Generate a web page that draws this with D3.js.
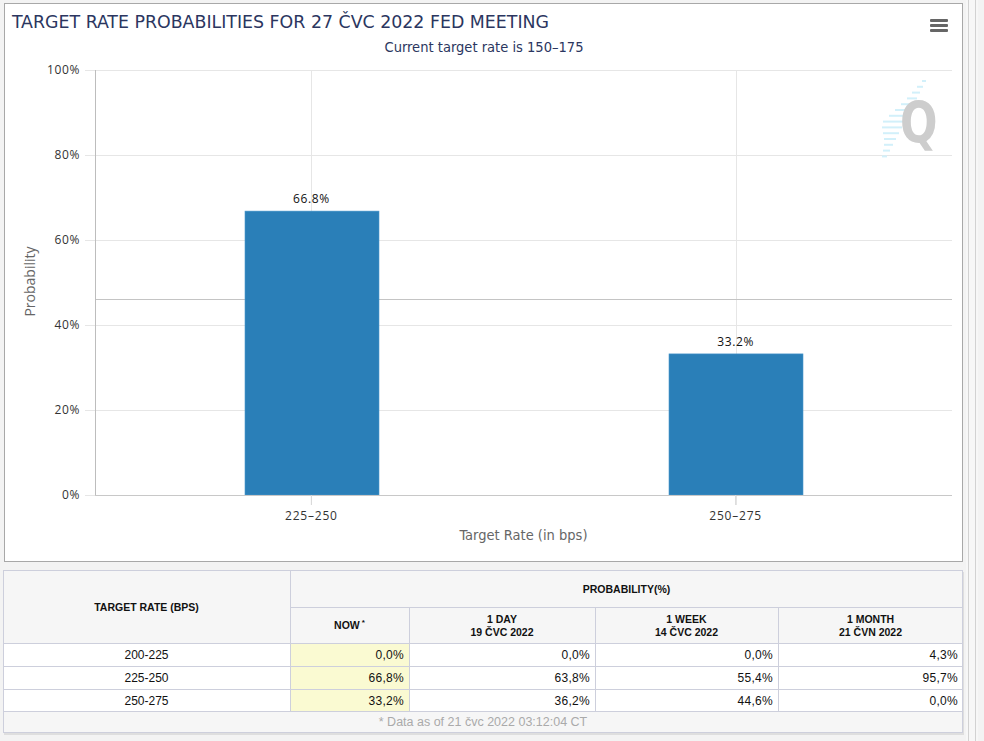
<!DOCTYPE html>
<html>
<head>
	<meta charset="utf-8">
	<title>Target rate probabilities</title>
	<script src="https://d3js.org/d3.v7.min.js" charset="utf-8"></script>
	<style>
		body { margin: 0; background: #f3f3f3; }
		svg { display: block; }
	</style>
</head>
<body>
<script type="text/javascript">
	// chart data
	var rates = ["225–250", "250–275"];
	var probs = [66.8, 33.2];
	var yTicks = [0, 20, 40, 60, 80, 100];
	var markerLine = 46.1;

	// table data
	var tableRates = ["200-225", "225-250", "250-275"];
	var nowVals = [0.0, 66.8, 33.2];
	var dayVals = [0.0, 63.8, 36.2];
	var weekVals = [0.0, 55.4, 44.6];
	var monthVals = [4.3, 95.7, 0.0];
	var colHeads = [["NOW"], ["1 DAY", "19 ČVC 2022"], ["1 WEEK", "14 ČVC 2022"], ["1 MONTH", "21 ČVN 2022"]];

	var svgWidth = 984, svgHeight = 741;

	var svg = d3.select("body")
		.append("svg")
		.attr("width", svgWidth)
		.attr("height", svgHeight);

	// scroll bar lines on the right
	svg.append("rect").attr("x", 966).attr("y", 0).attr("width", 12).attr("height", svgHeight)
		.attr("fill", "#f7f7f7");
	[968, 975].forEach(function(x) {
		svg.append("line").attr("x1", x + 0.5).attr("x2", x + 0.5).attr("y1", 0).attr("y2", svgHeight)
			.attr("stroke", "#d2d2d2");
	});

	// chart box
	svg.append("rect")
		.attr("x", 4.5).attr("y", 3.5).attr("width", 958).attr("height", 558)
		.attr("fill", "#fff").attr("stroke", "#a8a8a8");

	svg.append("text")
		.attr("x", 12).attr("y", 28)
		.attr("font-family", "'DejaVu Sans Condensed', 'DejaVu Sans'")
		.attr("font-size", 18)
		.attr("fill", "#2b3660")
		.attr("textLength", 537)
		.attr("lengthAdjust", "spacingAndGlyphs")
		.text("TARGET RATE PROBABILITIES FOR 27 ČVC 2022 FED MEETING");

	svg.append("text")
		.attr("x", 484).attr("y", 52)
		.attr("text-anchor", "middle")
		.attr("font-family", "'DejaVu Sans Condensed', 'DejaVu Sans'")
		.attr("font-size", 14)
		.attr("fill", "#2b3660")
		.attr("textLength", 199)
		.attr("lengthAdjust", "spacingAndGlyphs")
		.text("Current target rate is 150–175");

	// hamburger menu
	[19, 24, 29].forEach(function(y) {
		svg.append("rect").attr("x", 930).attr("y", y).attr("width", 18).attr("height", 3)
			.attr("rx", 1).attr("fill", "#666");
	});

	// plot area
	var margin = {top: 70, left: 95},
		width = 857,
		height = 425;

	var g = svg.append("g")
		.attr("transform", "translate(" + margin.left + "," + margin.top + ")");

	var x = d3.scaleBand().domain(rates).range([0, width]).paddingInner(0).paddingOuter(0.01),
		y = d3.scaleLinear().domain([0, 100]).range([height, 0]);

	// watermark (page position 900,143)
	var wm = svg.append("g").attr("transform", "translate(900,143)");
	var streakLen = [4, 6, 8, 10, 13, 16, 19, 22, 20, 16, 12, 9, 7, 5];
	streakLen.forEach(function(len, i) {
		var yy = -62 + i * 5.8, right = 26 - i * 3.0;
		wm.append("line")
			.attr("x1", right - len).attr("x2", right)
			.attr("y1", yy).attr("y2", yy)
			.attr("stroke", "#d2f0fa").attr("stroke-width", 2);
	});
	wm.append("text")
		.attr("x", 0).attr("y", 0)
		.attr("transform", "scale(0.92,1.2)")
		.attr("font-family", "'DejaVu Sans', sans-serif")
		.attr("font-weight", "bold")
		.attr("font-size", 48)
		.attr("fill", "#cdcdcd")
		.text("Q");

	// grid
	g.selectAll(".hgrid")
		.data(yTicks)
		.enter()
		.append("line")
		.attr("class", "hgrid")
		.attr("x1", -10).attr("x2", width)
		.attr("y1", function(d) { return Math.round(y(d)) + 0.5; })
		.attr("y2", function(d) { return Math.round(y(d)) + 0.5; })
		.attr("stroke", "#e6e6e6");

	g.selectAll(".vgrid")
		.data(rates)
		.enter()
		.append("line")
		.attr("class", "vgrid")
		.attr("x1", function(d) { return Math.round(x(d) + x.bandwidth() / 2) + 0.5; })
		.attr("x2", function(d) { return Math.round(x(d) + x.bandwidth() / 2) + 0.5; })
		.attr("y1", 0).attr("y2", height + 10)
		.attr("stroke", "#e6e6e6");

	g.append("line")
		.attr("x1", 0).attr("x2", width)
		.attr("y1", Math.round(y(markerLine)) + 0.5).attr("y2", Math.round(y(markerLine)) + 0.5)
		.attr("stroke", "#c4c4c4");

	// bars
	var barW = 134;
	g.selectAll(".bar")
		.data(probs)
		.enter()
		.append("rect")
		.attr("class", "bar")
		.attr("x", function(d, i) { return Math.ceil(x(rates[i]) + (x.bandwidth() - barW) / 2); })
		.attr("y", function(d) { return y(d); })
		.attr("width", barW)
		.attr("height", function(d) { return height - y(d); })
		.attr("fill", "#2a7fb8")
		.attr("stroke", "#4a98cc")
		.attr("stroke-width", 0.6);

	g.selectAll(".barlabel")
		.data(probs)
		.enter()
		.append("text")
		.attr("class", "barlabel")
		.attr("x", function(d, i) { return x(rates[i]) + x.bandwidth() / 2; })
		.attr("y", function(d) { return y(d) - 8; })
		.attr("text-anchor", "middle")
		.attr("font-family", "'Open Sans', sans-serif")
		.attr("font-size", 12)
		.attr("letter-spacing", 0.6)
		.attr("fill", "#111")
		.text(function(d) { return d.toFixed(1) + "%"; });

	// axes
	var xAxis = d3.axisBottom(x).tickSize(10).tickSizeOuter(0).tickPadding(6);
	var yAxis = d3.axisLeft(y).tickValues(yTicks).tickSize(0).tickPadding(15)
		.tickFormat(function(d) { return d + "%"; });

	var gx = g.append("g")
		.attr("transform", "translate(0," + height + ")")
		.call(xAxis);
	gx.select(".domain").attr("stroke", "#c8c8c8").attr("d", "M0,0.5H" + width);
	gx.selectAll(".tick line").attr("stroke", "#d8d8d8");
	gx.selectAll(".tick text")
		.attr("font-family", "'Open Sans', sans-serif")
		.attr("font-size", 12)
		.attr("letter-spacing", 0.8)
		.attr("fill", "#333");

	var gy = g.append("g").call(yAxis);
	gy.select(".domain").attr("stroke", "#bdbdbd").attr("d", "M0.5,0V" + height);
	gy.selectAll(".tick text")
		.attr("font-family", "'Open Sans', sans-serif")
		.attr("font-size", 12)
		.attr("letter-spacing", 0.6)
		.attr("fill", "#333");

	g.append("text")
		.attr("x", width / 2).attr("y", height + 45)
		.attr("text-anchor", "middle")
		.attr("font-family", "'DejaVu Sans Condensed', 'DejaVu Sans'")
		.attr("font-size", 14)
		.attr("fill", "#666")
		.attr("textLength", 128)
		.attr("lengthAdjust", "spacingAndGlyphs")
		.text("Target Rate (in bps)");

	g.append("text")
		.attr("transform", "translate(-60," + (height / 2 - 1) + ") rotate(-90)")
		.attr("text-anchor", "middle")
		.attr("font-family", "'Open Sans', sans-serif")
		.attr("font-size", 14)
		.attr("fill", "#666")
		.text("Probability");

	// table
	var colX = [3, 290, 409, 595, 778, 963];
	var rowY = [570, 607, 643, 666, 689, 711, 733];
	var border = "#cdcfdc";
	var tf = "'Liberation Sans', Arial, sans-serif";
	var t = svg.append("g");

	t.append("rect").attr("x", colX[0] + 1).attr("y", rowY[0] + 2).attr("width", colX[5] - colX[0]).attr("height", rowY[6] - rowY[0])
		.attr("fill", "#dedede");
	t.append("rect").attr("x", colX[0]).attr("y", rowY[0]).attr("width", colX[5] - colX[0]).attr("height", rowY[6] - rowY[0])
		.attr("fill", "#f6f6f6");

	var cols = [nowVals, dayVals, weekVals, monthVals];
	tableRates.forEach(function(r, i) {
		var top = rowY[2 + i], h = rowY[3 + i] - top;
		t.append("rect").attr("x", colX[0]).attr("y", top).attr("width", colX[5] - colX[0]).attr("height", h)
			.attr("fill", "#fff");
		t.append("rect").attr("x", colX[1]).attr("y", top).attr("width", colX[2] - colX[1]).attr("height", h)
			.attr("fill", "#fafad2");
		t.append("text")
			.attr("x", (colX[0] + colX[1]) / 2).attr("y", top + h / 2 + 4.5)
			.attr("text-anchor", "middle").attr("font-family", tf).attr("font-size", 12).attr("fill", "#111")
			.text(r);
		cols.forEach(function(vals, j) {
			t.append("text")
				.attr("x", colX[j + 2] - 5).attr("y", top + h / 2 + 4.5)
				.attr("text-anchor", "end").attr("font-family", tf).attr("font-size", 12).attr("fill", "#111")
				.attr("letter-spacing", 0.3)
				.text(vals[i].toFixed(1).replace(".", ",") + "%");
		});
	});

	// table grid lines
	function hline(x1, x2, yy) {
		t.append("line").attr("x1", x1).attr("x2", x2).attr("y1", yy + 0.5).attr("y2", yy + 0.5).attr("stroke", border);
	}
	function vline(xx, y1, y2) {
		t.append("line").attr("x1", xx + 0.5).attr("x2", xx + 0.5).attr("y1", y1).attr("y2", y2).attr("stroke", border);
	}
	hline(colX[0], colX[5], rowY[0]);
	hline(colX[1], colX[5], rowY[1]);
	[2, 3, 4, 5].forEach(function(k) { hline(colX[0], colX[5], rowY[k]); });
	vline(colX[0], rowY[0], rowY[6]);
	vline(colX[5] - 1, rowY[0], rowY[6]);
	vline(colX[1], rowY[0], rowY[5]);
	[2, 3, 4].forEach(function(k) { vline(colX[k], rowY[1], rowY[5]); });
	hline(colX[0], colX[5], rowY[6] - 1);

	// table headers
	var hs = 10.5;
	t.append("text")
		.attr("x", (colX[0] + colX[1]) / 2).attr("y", 611)
		.attr("text-anchor", "middle").attr("font-family", tf).attr("font-size", hs).attr("font-weight", "bold")
		.attr("fill", "#111").text("TARGET RATE (BPS)");
	t.append("text")
		.attr("x", (colX[1] + colX[5]) / 2).attr("y", 593)
		.attr("text-anchor", "middle").attr("font-family", tf).attr("font-size", hs).attr("font-weight", "bold")
		.attr("fill", "#111").text("PROBABILITY(%)");

	colHeads.forEach(function(lines, j) {
		var cx = (colX[j + 1] + colX[j + 2]) / 2;
		if (lines.length === 1) {
			var tx = t.append("text")
				.attr("x", cx).attr("y", 629)
				.attr("text-anchor", "middle").attr("font-family", tf).attr("font-size", hs).attr("font-weight", "bold")
				.attr("fill", "#111");
			tx.append("tspan").text(lines[0]);
			tx.append("tspan").attr("dy", -4).attr("dx", 2).attr("font-size", 8).text("*");
		} else {
			lines.forEach(function(l, k) {
				t.append("text")
					.attr("x", cx).attr("y", 623 + k * 13)
					.attr("text-anchor", "middle").attr("font-family", tf).attr("font-size", hs).attr("font-weight", "bold")
					.attr("fill", "#111").text(l);
			});
		}
	});

	t.append("text")
		.attr("x", 483).attr("y", 726)
		.attr("text-anchor", "middle").attr("font-family", tf).attr("font-size", 12.5)
		.attr("fill", "#aaa").text("* Data as of 21 čvc 2022 03:12:04 CT");
</script>
</body>
</html>
